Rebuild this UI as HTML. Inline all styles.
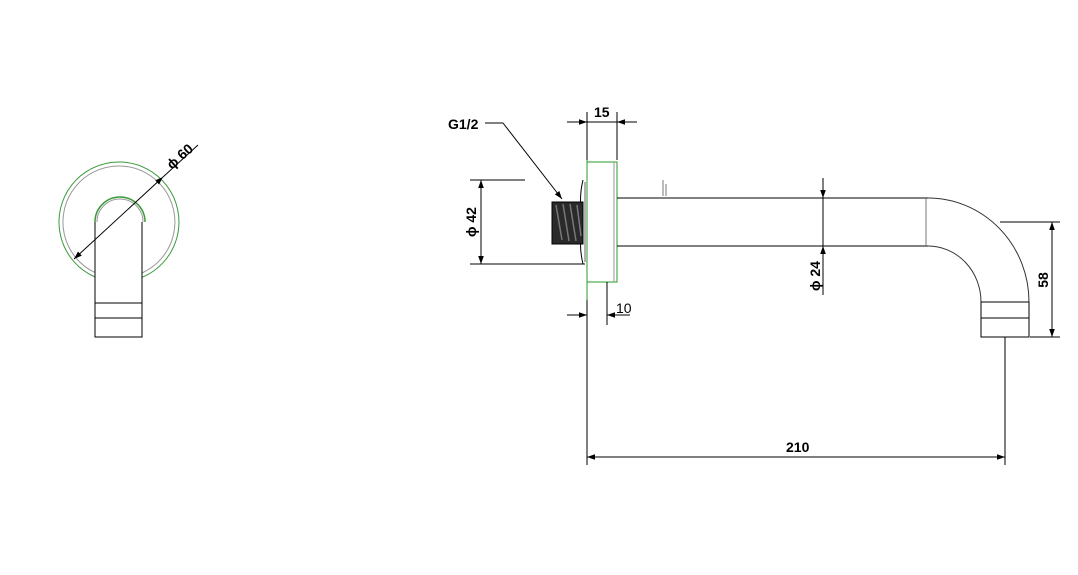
<!DOCTYPE html>
<html><head><meta charset="utf-8"><style>
html,body{margin:0;padding:0;background:#fff;width:1078px;height:575px;overflow:hidden}
text{font-family:"Liberation Sans",sans-serif;font-weight:bold;font-size:14px;fill:#000}
</style></head><body>
<svg width="1078" height="575" viewBox="0 0 1078 575" xmlns="http://www.w3.org/2000/svg">
<defs>
<marker id="a" viewBox="0 0 10 10" refX="10" refY="5" markerWidth="10" markerHeight="8" orient="auto-start-reverse" markerUnits="userSpaceOnUse"><path d="M0,1.5 L10,5 L0,8.5z" fill="#000"/></marker>
</defs>
<g fill="none" stroke-width="1">
<!-- left view -->
<path d="M142,277.4 A60,60 0 1 0 95,277" stroke="#3a9a3a"/>
<path d="M142,273 A56,56 0 1 0 95,272.6" stroke="#999"/>
<path d="M95,222 A25,25 0 0 1 145,222" stroke="#3a9a3a" stroke-width="1.5"/>
<path d="M97,222 A23,23 0 0 1 143,222" stroke="#999"/>
<path d="M95,222 V337 H142 V222 M95,303 H142 M95,318 H142" stroke="#000"/>
<line x1="74" y1="259" x2="163" y2="177" stroke="#000" marker-start="url(#a)" marker-end="url(#a)"/>
<line x1="163" y1="177" x2="198" y2="145" stroke="#000"/>
<!-- flange -->
<line x1="587" y1="145" x2="587" y2="300" stroke="#2a9a2a"/>
<path d="M587,162 H617 V282 H587" stroke="#2a9a2a"/>
<line x1="614" y1="162" x2="614" y2="282" stroke="#999"/>
<line x1="607" y1="282" x2="607" y2="325" stroke="#000"/>
<!-- collar -->
<path d="M583,180 Q578,200 583,222 Q578,244 583,264" stroke="#000"/>
<path d="M585,182 L585,262" stroke="#666"/>
<rect x="552" y="202" width="31" height="42" fill="#2a2a2a" stroke="#000"/>
<path d="M556,205 L562,240 M563,204 L569,241 M570,204 L576,241 M577,205 L581,236" stroke="#777" stroke-width="1.5"/>
<!-- pipe -->
<path d="M617,198 H928 M617,246 H928" stroke="#000"/>
<line x1="926" y1="198" x2="926" y2="246" stroke="#777"/>
<line x1="663" y1="180" x2="663" y2="196" stroke="#777"/>
<line x1="666" y1="184" x2="666" y2="196" stroke="#777"/>
<path d="M928,198 A101,104 0 0 1 1029,302" stroke="#333"/>
<path d="M928,246 A53,56 0 0 1 981,302" stroke="#333"/>
<path d="M981,302 H1029 V337 H981 Z M981,318 H1029" stroke="#000"/>
<!-- dims -->
<path d="M470,180 H525 M470,264 H585" stroke="#000"/>
<line x1="481" y1="180" x2="481" y2="264" stroke="#000" marker-start="url(#a)" marker-end="url(#a)"/>
<path d="M587,112 V160 M617,112 V160" stroke="#000"/>
<line x1="567" y1="122" x2="587" y2="122" stroke="#000" marker-end="url(#a)"/>
<line x1="637" y1="122" x2="617" y2="122" stroke="#000" marker-end="url(#a)"/>
<line x1="587" y1="122" x2="617" y2="122" stroke="#000"/>
<line x1="567" y1="315" x2="587" y2="315" stroke="#000" marker-end="url(#a)"/>
<line x1="630" y1="315" x2="607" y2="315" stroke="#000" marker-end="url(#a)"/>
<line x1="587" y1="300" x2="587" y2="465" stroke="#000"/>
<line x1="1005" y1="337" x2="1005" y2="465" stroke="#000"/>
<line x1="587" y1="457" x2="1005" y2="457" stroke="#000" marker-start="url(#a)" marker-end="url(#a)"/>
<line x1="823" y1="178" x2="823" y2="198" stroke="#000" marker-end="url(#a)"/>
<line x1="823" y1="295" x2="823" y2="246" stroke="#000" marker-end="url(#a)"/>
<line x1="823" y1="198" x2="823" y2="246" stroke="#000"/>
<path d="M1000,222 H1060 M1030,337 H1060" stroke="#000"/>
<line x1="1052" y1="222" x2="1052" y2="337" stroke="#000" marker-start="url(#a)" marker-end="url(#a)"/>
<path d="M485,123 H503" stroke="#000"/>
<line x1="503" y1="123" x2="562" y2="199" stroke="#000" marker-end="url(#a)"/>
</g>
<text x="448" y="129">G1/2</text>
<text x="594" y="117">15</text>
<text x="616" y="313" style="font-weight:normal">10</text>
<text x="786" y="452">210</text>
<text transform="translate(1048,280) rotate(-90)" text-anchor="middle">58</text>
<text transform="translate(476,222) rotate(-90)" text-anchor="middle">ϕ 42</text>
<text transform="translate(820,276) rotate(-90)" text-anchor="middle">ϕ 24</text>
<text transform="translate(183,160) rotate(-42)" text-anchor="middle">ϕ 60</text>
</svg>
</body></html>
